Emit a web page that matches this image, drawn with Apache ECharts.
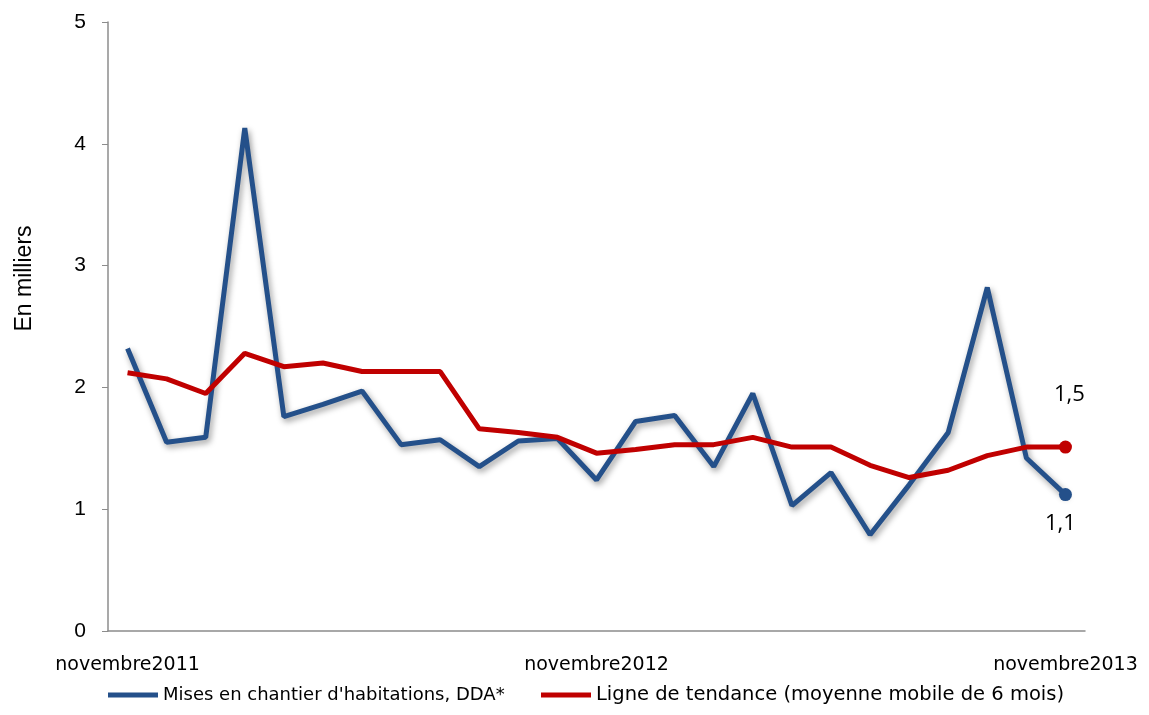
<!DOCTYPE html>
<html><head><meta charset="utf-8">
<script src="https://cdn.jsdelivr.net/npm/echarts@6/dist/echarts.min.js"></script>
<style>html,body{margin:0;padding:0;background:#fff}#c{width:1149px;height:715px}</style>
</head><body><div id="c"></div>
<script>
const categories = ['nov. 2011','déc. 2011','janv. 2012','févr. 2012','mars 2012','avr. 2012','mai 2012','juin 2012','juil. 2012','août 2012','sept. 2012','oct. 2012','nov. 2012','déc. 2012','janv. 2013','févr. 2013','mars 2013','avr. 2013','mai 2013','juin 2013','juil. 2013','août 2013','sept. 2013','oct. 2013','nov. 2013'];
const tickLabels = {0:'novembre2011', 12:'novembre2012', 24:'novembre2013'};
const starts = [2.32,1.55,1.59,4.13,1.76,1.86,1.97,1.53,1.57,1.35,1.56,1.58,1.24,1.72,1.77,1.35,1.95,1.03,1.30,0.79,1.20,1.63,2.82,1.42,1.12];
const trend = [2.12,2.07,1.95,2.28,2.17,2.20,2.13,2.13,2.13,1.66,1.63,1.59,1.46,1.49,1.53,1.53,1.59,1.51,1.51,1.36,1.26,1.32,1.44,1.51,1.51];
const endLabels = ['1,1','1,5'];
const names = ["Mises en chantier d'habitations, DDA*", 'Ligne de tendance (moyenne mobile de 6 mois)'];

function build(arr, lbl, pos, dist, off) {
  return arr.map((v, i) => i === arr.length - 1 ? {
    value: v, symbol: 'circle', symbolSize: 13,
    label: {show: true, position: pos, distance: dist, offset: off, formatter: lbl,
      fontFamily: 'Open Sans', fontSize: 22, color: '#000'}
  } : {value: v, symbol: 'none'});
}
const legendBase = {itemWidth: 50, itemHeight: 5, icon: 'rect'};
const chart = echarts.init(document.getElementById('c'));
chart.setOption({
  animation: false,
  backgroundColor: '#fff',
  grid: {left: 108, right: 64, top: 22, bottom: 84},
  legend: [
    Object.assign({}, legendBase, {left: 103, top: 681, data: [names[0]],
      textStyle: {fontFamily: 'DejaVu Sans', fontSize: 18, color: '#000'}}),
    Object.assign({}, legendBase, {left: 536, top: 680, data: [names[1]],
      textStyle: {fontFamily: 'DejaVu Sans', fontSize: 19.5, color: '#000'}})
  ],
  xAxis: {
    type: 'category', data: categories, boundaryGap: true,
    axisLine: {lineStyle: {color: '#8c8c8c', width: 1.5}},
    axisTick: {show: false},
    axisLabel: {
      interval: 0, margin: 25, color: '#000', fontFamily: 'DejaVu Sans', fontSize: 19,
      formatter: (v, i) => tickLabels[i] || ''
    }
  },
  yAxis: {
    type: 'value', min: 0, max: 5, interval: 1,
    name: 'En milliers', nameLocation: 'middle', nameGap: 72, nameRotate: 90,
    nameTextStyle: {fontFamily: 'Liberation Sans', fontSize: 23, color: '#000', padding: [0, 0, 0, 96]},
    axisLine: {show: true, lineStyle: {color: '#8c8c8c', width: 1.5}},
    axisTick: {show: true, length: 6, lineStyle: {color: '#8c8c8c'}},
    splitLine: {show: false},
    axisLabel: {margin: 22, color: '#000', fontFamily: 'Liberation Sans', fontSize: 21}
  },
  series: [
    {
      name: names[0], type: 'line', data: build(starts, endLabels[0], 'bottom', 12, [-5, 0]),
      showAllSymbol: true, color: '#24508a',
      lineStyle: {width: 5, color: '#24508a', shadowColor: 'rgba(0,0,0,0.4)', shadowBlur: 6, shadowOffsetX: 2, shadowOffsetY: 3},
      itemStyle: {color: '#24508a'}, z: 2
    },
    {
      name: names[1], type: 'line', data: build(trend, endLabels[1], 'top', 35, [4, 0]),
      showAllSymbol: true, color: '#c00000',
      lineStyle: {width: 5, color: '#c00000'},
      itemStyle: {color: '#c00000'}, z: 3
    }
  ]
});
</script></body></html>
